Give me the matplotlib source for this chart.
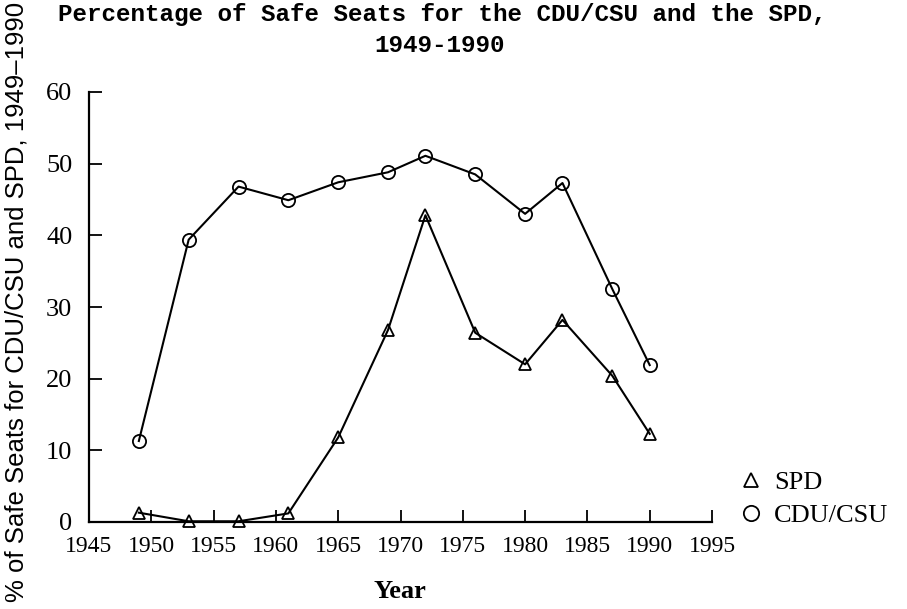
import matplotlib
matplotlib.use("Agg")
import matplotlib.pyplot as plt
from matplotlib.lines import Line2D

years = [1949, 1953, 1957, 1961, 1965, 1969, 1972, 1976, 1980, 1983, 1987, 1990]
cdu_csu = [11.3, 39.4, 46.8, 44.9, 47.4, 48.8, 51.1, 48.5, 43.0, 47.3, 32.5, 21.9]
spd = [1.3, 0.1, 0.1, 1.2, 11.8, 26.8, 42.8, 26.4, 22.0, 28.2, 20.4, 12.3]
xticks = [1945, 1950, 1955, 1960, 1965, 1970, 1975, 1980, 1985, 1990, 1995]
yticks = [0, 10, 20, 30, 40, 50, 60]

W, H = 907, 609
fig = plt.figure(figsize=(W / 100, H / 100), dpi=100)
fig.patch.set_facecolor("white")
ax = fig.add_axes([89 / W, 1 - 522 / H, (712 - 89) / W, (522 - 92) / H])

ax.plot(years, cdu_csu, color="black", lw=1.5, marker="o", ms=9.5,
        mfc="none", mec="black", mew=1.3, clip_on=False)
ax.plot(years, spd, color="black", lw=1.5, marker="^", ms=8.5,
        mfc="none", mec="black", mew=1.3, clip_on=False)

ax.set_xlim(1945, 1995)
ax.set_ylim(0, 60)
ax.set_xticks(xticks)
ax.set_yticks(yticks)
ax.set_xticklabels([str(t) for t in xticks], family="Liberation Serif", fontsize=17)
ax.set_yticklabels([str(t) for t in yticks], family="Liberation Serif", fontsize=19)
ax.tick_params(axis="x", direction="in", length=9, width=1.3, pad=10)
ax.tick_params(axis="y", direction="in", length=9, width=1.3, pad=12)
for s in ["top", "right"]:
    ax.spines[s].set_visible(False)
for s in ["left", "bottom"]:
    ax.spines[s].set_linewidth(1.6)
ax.set_facecolor("none")

fig.text(400 / W, 1 - 592 / H, "Year", family="Liberation Serif",
         fontsize=19, fontweight="bold", ha="center", va="center")

fig.text(17 / W, 1 - 302 / H, "% of Safe Seats for CDU/CSU and SPD, 1949\u20131990",
         family="Liberation Sans", fontsize=18.5, rotation=90,
         ha="center", va="center")

fig.text(442 / W, 1 - 15 / H, "Percentage of Safe Seats for the CDU/CSU and the SPD,",
         family="Liberation Mono", fontweight="bold", fontsize=17.5,
         ha="center", va="center")
fig.text(440 / W, 1 - 46 / H, "1949-1990",
         family="Liberation Mono", fontweight="bold", fontsize=17.5,
         ha="center", va="center")

handles = [
    Line2D([], [], ls="none", marker="^", ms=10, mfc="none", mec="black", mew=1.3),
    Line2D([], [], ls="none", marker="o", ms=11, mfc="none", mec="black", mew=1.3),
]
fig.legend(handles, ["SPD", "CDU/CSU"], loc="center left",
           bbox_to_anchor=(740 / W, 1 - 499 / H), frameon=False,
           prop={"family": "Liberation Serif", "size": 19},
           handlelength=0.8, handletextpad=0.5, labelspacing=0.35,
           borderpad=0, borderaxespad=0)

fig.savefig("out.png", dpi=100, facecolor="white")
